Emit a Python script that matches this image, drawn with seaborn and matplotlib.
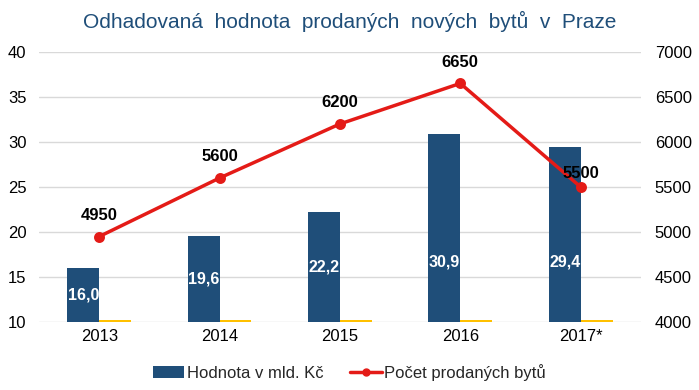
import matplotlib
matplotlib.use("Agg")
import matplotlib.pyplot as plt
import seaborn as sns
import pandas as pd
from matplotlib.patches import Patch
from matplotlib.lines import Line2D

roky = ["2013", "2014", "2015", "2016", "2017*"]
hodnota = [16.0, 19.6, 22.2, 30.9, 29.4]
doplnek = [10.2, 10.2, 10.2, 10.2, 10.2]
pocet = [4950, 5600, 6200, 6650, 5500]
left_ticks = [10, 15, 20, 25, 30, 35, 40]
right_ticks = [4000, 4500, 5000, 5500, 6000, 6500, 7000]

sns.set_theme(style="white")
plt.rcParams['font.family'] = ['Liberation Sans', 'DejaVu Sans']

BLUE = "#1F4E79"
YELLOW = "#FFC000"
RED = "#E41B17"
BW = 0.53

df = pd.DataFrame({
    "rok": roky * 2,
    "val": hodnota + doplnek,
    "serie": ["Hodnota v mld. Kč"] * 5 + ["doplnek"] * 5,
})

fig = plt.figure(figsize=(6.99, 3.9), dpi=100)
ax = fig.add_axes([0.0558, 0.174, 0.861, 0.693])

sns.barplot(data=df, x="rok", y="val", hue="serie", order=roky,
            palette=[BLUE, YELLOW], width=BW, ax=ax, legend=False,
            saturation=1, linewidth=0)
ax.set_ylim(left_ticks[0], left_ticks[-1])
ax.set_yticks(left_ticks)
ax.set_xlim(-0.5, len(roky) - 0.5)
ax.grid(axis="y", color="#D9D9D9", linewidth=1)
ax.set_axisbelow(True)
for s in ax.spines.values():
    s.set_visible(False)
ax.set_xlabel("")
ax.set_ylabel("")
ax.tick_params(axis="both", length=0, labelsize=12, colors="#000000")
ax.tick_params(axis="y", pad=9)
ax.tick_params(axis="x", pad=5)

# bar labels
for i, v in enumerate(hodnota):
    y = min((left_ticks[0] + v) / 2, 16.7)
    ax.text(i - BW / 4, y, f"{v:.1f}".replace(".", ","), ha="center", va="center",
            color="white", fontsize=11.5, fontweight="bold")

ax2 = ax.twinx()
sns.pointplot(x=roky, y=pocet, order=roky, color=RED, ax=ax2,
              markers="o", markersize=6, linewidth=2.5)
ax2.set_ylim(right_ticks[0], right_ticks[-1])
ax2.set_yticks(right_ticks)
ax2.set_xlim(-0.5, len(roky) - 0.5)
for s in ax2.spines.values():
    s.set_visible(False)
ax2.set_ylabel("")
ax2.tick_params(axis="y", length=0, labelsize=12, colors="#000000", pad=10)
ax2.grid(False)

for i, v in enumerate(pocet):
    dy = 4 if i == len(pocet) - 1 else 10
    ax2.annotate(f"{v}", (i, v), xytext=(0, dy), textcoords="offset points",
                 ha="center", va="bottom", fontsize=12, fontweight="bold",
                 color="black")

fig.text(0.5, 0.945, "Odhadovaná  hodnota  prodaných  nových  bytů  v  Praze",
         ha="center", va="center", fontsize=15, color="#1F4E79")

handles = [Patch(facecolor=BLUE, edgecolor="none"),
           Line2D([0], [0], color=RED, linewidth=2.5, marker="o", markersize=5)]
fig.legend(handles, ["Hodnota v mld. Kč", "Počet prodaných bytů"],
           loc="center", bbox_to_anchor=(0.5, 0.045), ncol=2, frameon=False,
           fontsize=12, handlelength=1.9, columnspacing=1.6, handletextpad=0.15)

fig.savefig("out.png", dpi=100)
